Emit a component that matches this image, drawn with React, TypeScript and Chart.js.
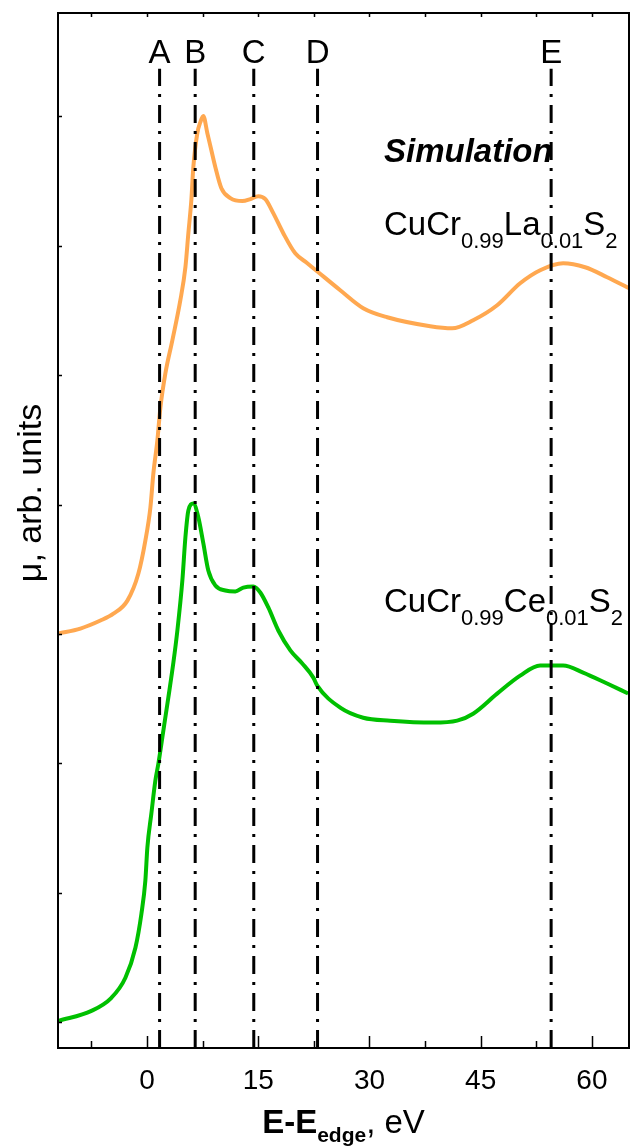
import React, { useEffect, useRef } from "react";
import { Chart, registerables } from "chart.js";
Chart.register(...registerables);

// ---- data ----
const energyLa = [-11.94, -8.98, -6.28, -4.53, -2.64, -1.16, -0.22, 0.46, 0.86, 1.4, 1.81, 2.48, 3.42, 4.5, 5.18, 5.58, 5.98, 6.25, 6.79, 7.2, 7.6, 8.14, 8.68, 9.22, 10.03, 11.24, 12.86, 13.94, 15.01, 15.96, 17.03, 18.38, 19.99, 21.62, 23.1, 26.06, 29.16, 32.39, 38.19, 41.15, 43.98, 47.22, 50.32, 53.02, 56.12, 59.08, 62.05, 65.01];
const muLa = [3.004, 3.042, 3.104, 3.157, 3.258, 3.467, 3.722, 3.978, 4.241, 4.496, 4.751, 5.014, 5.27, 5.58, 5.835, 6.098, 6.353, 6.608, 6.871, 6.957, 7.003, 6.871, 6.739, 6.608, 6.446, 6.369, 6.346, 6.361, 6.384, 6.361, 6.253, 6.098, 5.943, 5.866, 5.796, 5.657, 5.518, 5.448, 5.379, 5.363, 5.425, 5.541, 5.711, 5.812, 5.866, 5.835, 5.758, 5.673];
const energyCe = [-11.94, -7.49, -4.8, -2.91, -1.56, -0.75, -0.22, 0.05, 0.59, 1.13, 1.54, 2.21, 2.88, 3.56, 4.1, 4.77, 5.18, 5.58, 6.25, 6.93, 7.6, 8.27, 9.22, 10.57, 11.91, 12.99, 14.34, 15.28, 16.36, 17.71, 19.33, 20.94, 22.43, 22.96, 26.06, 29.16, 32.8, 38.6, 41.83, 43.98, 47.22, 50.32, 53.02, 56.12, 58.81, 62.05, 64.88];
const muCe = [0.01, 0.087, 0.188, 0.343, 0.575, 0.838, 1.094, 1.349, 1.612, 1.867, 1.999, 2.254, 2.509, 2.779, 3.028, 3.414, 3.747, 3.955, 4.009, 3.901, 3.7, 3.491, 3.375, 3.336, 3.328, 3.359, 3.367, 3.321, 3.205, 3.027, 2.873, 2.772, 2.663, 2.601, 2.431, 2.353, 2.33, 2.315, 2.33, 2.384, 2.539, 2.678, 2.756, 2.756, 2.702, 2.617, 2.54];
const markerLabels = ["A", "B", "C", "D", "E"];
const markerEnergies = [1.7, 6.5, 14.4, 23.0, 54.5];
const markerTop = 7.37;
const xTickValues = [0, 15, 30, 45, 60];
const xMinorTicks = [-7.5, 0, 7.5, 15, 22.5, 30, 37.5, 45, 52.5, 60];
const yTickValues = [0, 1, 2, 3, 4, 5, 6, 7];
const X_MIN = -12, X_MAX = 65, Y_MIN = -0.2, Y_MAX = 7.8;

const FONT = '"Liberation Sans", Arial, sans-serif';

type Part = { t: string; sub?: boolean };
function drawRich(ctx: CanvasRenderingContext2D, x: number, y: number, parts: Part[], size: number, subSize: number, drop: number, weight = "", align: "left" | "center" = "left", weights?: string[]) {
  const fontFor = (p: Part, i: number) => `${weights ? weights[i] : weight} ${p.sub ? subSize : size}px ${FONT}`;
  let total = 0;
  parts.forEach((p, i) => { ctx.font = fontFor(p, i); total += ctx.measureText(p.t).width; });
  let cx = align === "center" ? x - total / 2 : x;
  ctx.textAlign = "left";
  ctx.textBaseline = "alphabetic";
  parts.forEach((p, i) => {
    ctx.font = fontFor(p, i);
    ctx.fillText(p.t, cx, p.sub ? y + drop : y);
    cx += ctx.measureText(p.t).width;
  });
}

const decorPlugin = {
  id: "decor",
  afterDatasetsDraw(chart: any) {
    const { ctx, chartArea: a, scales } = chart;
    const xs = scales.x, ys = scales.y;
    ctx.save();
    ctx.strokeStyle = "#000";
    ctx.fillStyle = "#000";
    // frame
    ctx.lineWidth = 2;
    ctx.strokeRect(a.left, a.top, a.right - a.left, a.bottom - a.top);
    // x ticks (inward), bottom and top
    ctx.lineWidth = 1.5;
    xMinorTicks.forEach((v) => {
      const px = Math.round(xs.getPixelForValue(v)) + 0.5;
      const major = xTickValues.includes(v);
      ctx.beginPath();
      ctx.moveTo(px, a.bottom);
      ctx.lineTo(px, a.bottom - (major ? 12 : 7));
      ctx.moveTo(px, a.top);
      ctx.lineTo(px, a.top + 4);
      ctx.stroke();
    });
    // y ticks (inward, left)
    yTickValues.forEach((v) => {
      const py = Math.round(ys.getPixelForValue(v)) + 0.5;
      ctx.beginPath();
      ctx.moveTo(a.left, py);
      ctx.lineTo(a.left + 4, py);
      ctx.stroke();
    });
    // marker letters
    ctx.font = `33px ${FONT}`;
    ctx.textAlign = "center";
    ctx.textBaseline = "alphabetic";
    markerEnergies.forEach((e, i) => {
      ctx.fillText(markerLabels[i], xs.getPixelForValue(e), 63);
    });
    // annotations
    ctx.font = `italic bold 33px ${FONT}`;
    ctx.textAlign = "left";
    ctx.fillText("Simulation", 384, 162);
    drawRich(ctx, 384, 235, [{ t: "CuCr" }, { t: "0.99", sub: true }, { t: "La" }, { t: "0.01", sub: true }, { t: "S" }, { t: "2", sub: true }], 33, 22, 13);
    drawRich(ctx, 384, 612, [{ t: "CuCr" }, { t: "0.99", sub: true }, { t: "Ce" }, { t: "0.01", sub: true }, { t: "S" }, { t: "2", sub: true }], 33, 22, 13);
    // x-axis title
    drawRich(ctx, (a.left + a.right) / 2, 1133, [{ t: "E-E" }, { t: "edge", sub: true }, { t: ", eV" }], 33, 21, 9, "", "center", ["bold", "bold", ""]);
    // y-axis title
    ctx.save();
    ctx.translate(41, 493);
    ctx.rotate(-Math.PI / 2);
    ctx.font = `34px ${FONT}`;
    ctx.textAlign = "center";
    ctx.textBaseline = "alphabetic";
    ctx.fillText("μ, arb. units", 0, 0);
    ctx.restore();
    ctx.restore();
  },
};

export default function App() {
  const ref = useRef<HTMLCanvasElement | null>(null);
  useEffect(() => {
    if (!ref.current) return;
    const markerSets = markerEnergies.map((e) => ({
      data: [{ x: e, y: Y_MIN }, { x: e, y: markerTop }],
      borderColor: "#000",
      borderWidth: 3,
      borderDash: [18, 8, 3, 8],
      pointRadius: 0,
      order: 0,
      tension: 0,
    }));
    const chart = new Chart(ref.current, {
      type: "line",
      data: {
        datasets: [
          ...markerSets,
          {
            label: "CuCr0.99La0.01S2",
            data: energyLa.map((x, i) => ({ x, y: muLa[i] })),
            borderColor: "#FFA850",
            borderWidth: 4,
            pointRadius: 0,
            cubicInterpolationMode: "monotone",
            order: 1,
          },
          {
            label: "CuCr0.99Ce0.01S2",
            data: energyCe.map((x, i) => ({ x, y: muCe[i] })),
            borderColor: "#00C000",
            borderWidth: 4,
            pointRadius: 0,
            cubicInterpolationMode: "monotone",
            order: 1,
          },
        ] as any,
      },
      options: {
        responsive: false,
        animation: false,
        layout: { padding: { top: 13, right: 1, left: 0, bottom: 0 } },
        plugins: { legend: { display: false }, tooltip: { enabled: false }, title: { display: false } },
        scales: {
          x: {
            type: "linear",
            min: X_MIN,
            max: X_MAX,
            grid: { display: false, drawTicks: false },
            border: { display: false },
            afterBuildTicks: (s: any) => { s.ticks = xTickValues.map((v) => ({ value: v })); },
            afterFit: (s: any) => { s.height = 99; },
            ticks: { color: "#000", font: { size: 28, family: FONT }, padding: 16, maxRotation: 0, autoSkip: false },
          },
          y: {
            type: "linear",
            min: Y_MIN,
            max: Y_MAX,
            grid: { display: false, drawTicks: false },
            border: { display: false },
            ticks: { display: false },
            afterFit: (s: any) => { s.width = 58; },
          },
        },
      } as any,
      plugins: [decorPlugin],
    });
    return () => chart.destroy();
  }, []);
  return (
    <div style={{ position: "absolute", left: 0, top: 0, width: 630, height: 1147, background: "#fff" }}>
      <canvas ref={ref} width={630} height={1147} style={{ display: "block" }} />
    </div>
  );
}
